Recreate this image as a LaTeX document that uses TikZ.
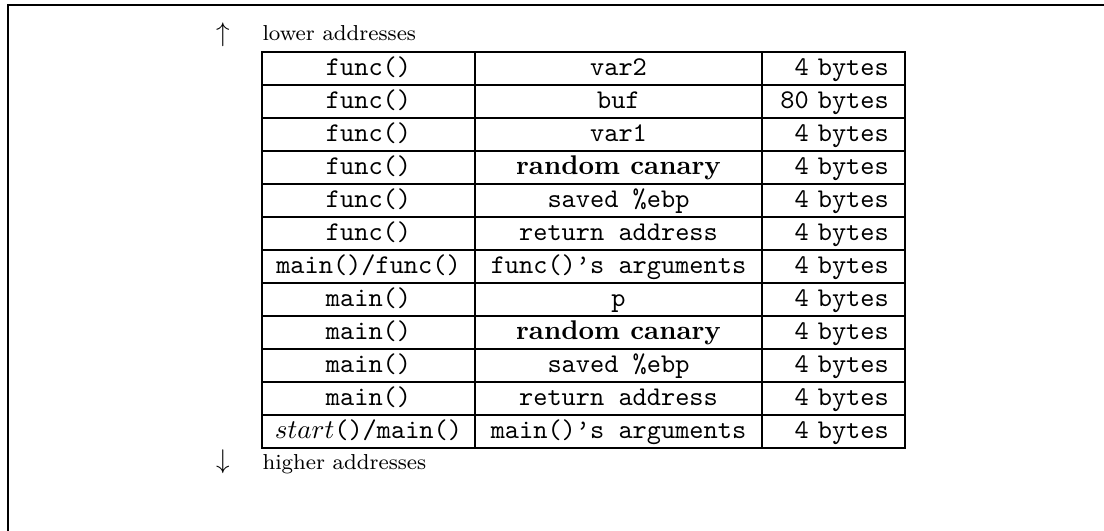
\documentclass[tikz,border=0pt]{standalone}
\usepackage{fontspec}
\begin{document}
\begin{tikzpicture}[x=0.37pt,y=-0.37pt,>=stealth,
        cell/.style={draw,line width=0.5pt,inner ysep=0pt,inner xsep=3pt,
            minimum height=12.21pt,text height=8pt,text depth=3pt,font=\ttfamily},
        owner/.style={cell,minimum width=78.81pt},
        slot/.style={cell,minimum width=106.19pt},
        size/.style={cell,inner xsep=6pt,text width=40.91pt,align=right},
        note/.style={anchor=base west,inner sep=0pt,font=\footnotesize}]
        \useasboundingbox (0,0) rectangle (1104,531);
        %\draw[gray!50,step=33] (0,0) grid (1104,531);
        \draw[line width=0.9pt] (1104,5) -| (8,531);
        \node (up) at (223,35) {$\uparrow$};
        \node[note] (lower) at (262,41) {lower addresses};
        \foreach \caller/\item/\bytes [count=\i] in {
            func()/var2/4,
            func()/buf/80,
            func()/var1/4,
            func()/{\rmfamily\bfseries random canary}/4,
            func()/saved \%ebp/4,
            func()/return address/4,
            {main()/func()}/func()’s arguments/4,
            main()/p/4,
            main()/{\rmfamily\bfseries random canary}/4,
            main()/saved \%ebp/4,
            main()/return address/4,
            {$start$()/main()}/main()’s arguments/4}
        {
            \node[owner] (o\i) at (368.5,{35.5+33*\i}) {\caller};
            \node[slot] (s\i) at (618.5,{35.5+33*\i}) {\item};
            \node[size] (b\i) at (833.5,{35.5+33*\i}) {\bytes\ bytes};
        }
        \node (down) at (223,462) {$\downarrow$};
        \node[note] (higher) at (262,470) {higher addresses};
    \end{tikzpicture}
\end{document}
